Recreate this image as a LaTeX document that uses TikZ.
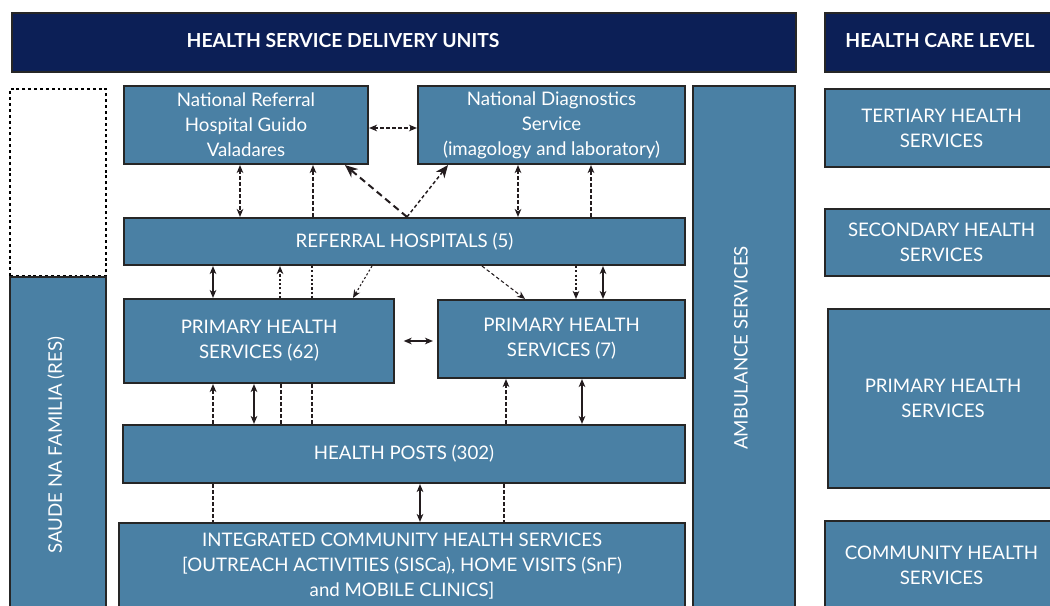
\documentclass[tikz,border=0pt]{standalone}
\usepackage{fontspec}
\setmainfont{Lato}
\usetikzlibrary{arrows.meta}
\definecolor{boxblue}{RGB}{74,128,164}
\definecolor{navy}{RGB}{12,31,86}
\definecolor{edge}{RGB}{38,38,38}
\definecolor{arr}{RGB}{35,28,30}
\begin{document}
\begin{tikzpicture}[x=0.75pt,y=-0.75pt,
  blk/.style 2 args={draw=edge, line width=1.6pt, fill=boxblue, text=white,
    minimum width=#1*0.75pt, minimum height=#2*0.75pt, inner sep=0pt,
    align=center, font=\fontsize{14}{18.75}\selectfont},
  hdr/.style 2 args={draw=edge, line width=1.6pt, fill=navy,
    minimum width=#1*0.75pt, minimum height=#2*0.75pt, inner sep=0pt},
  hdrtext/.style={text=white, font=\bfseries\fontsize{14.5}{17}\selectfont},
  lbl/.style={text=white, font=\fontsize{14}{18.75}\selectfont, inner sep=0pt},
  tipsm/.tip={Stealth[length=6pt,width=5pt,inset=1.8pt]},
  tipbig/.tip={Stealth[length=9.5pt,width=8pt,inset=3pt]},
  con/.style={draw=arr, line width=0.8pt},
  da/.style={con, dash pattern=on 2.6pt off 1.9pt},
  dt/.style={con, dash pattern=on 1.6pt off 1.6pt},
  thk/.style={draw=arr, line width=1.5pt},
  bigda/.style={draw=arr, line width=1.5pt, dash pattern=on 5pt off 3.2pt},
]
\useasboundingbox (0,0) rectangle (1050,606);
\fill[white] (0,0) rectangle (1050,606);

% headers
\node[hdr={784}{59}] (h1) at (404,42.5) {};
\node[hdrtext] (h1t) at (343,40.5) {HEALTH SERVICE DELIVERY UNITS};
\node[hdr={233}{59}] (h2) at (941.5,42.5) {};
\node[hdrtext] (h2t) at (940,40.5) {HEALTH CARE LEVEL};

% left column
\node[draw=black, line width=1.5pt, dash pattern=on 2.2pt off 2.2pt,
      minimum width=96*0.75pt, minimum height=187*0.75pt, inner sep=0pt] (dotbox) at (58,182.5) {};
\node[blk={96}{343}] (res) at (58,448.5) {};
\node[lbl, rotate=90] (rest) at (56,445) {SAUDE NA FAMILIA (RES)};

% ambulance
\node[blk={102}{534}] (amb) at (744,353) {};
\node[lbl, rotate=90] (ambt) at (741,348) {AMBULANCE SERVICES};

% delivery units
\node[blk={244}{78}] (nrh) at (246,125) {National Referral\\Hospital Guido\\Valadares};
\node[blk={267}{78}] (nds) at (551.5,125) {National Diagnostics\\Service\\(imagology and laboratory)};
\node[blk={561}{47}] (ref) at (404.5,241.5) {REFERRAL HOSPITALS (5)};
\node[blk={270}{84}] (p62) at (259,341) {PRIMARY HEALTH\\SERVICES (62)};
\node[blk={247}{78}] (p7) at (561.5,339) {PRIMARY HEALTH\\SERVICES (7)};
\node[blk={562}{58}] (hp) at (404,454) {HEALTH POSTS (302)};
\node[blk={566}{87}] (ichs) at (402,566.5) {INTEGRATED COMMUNITY HEALTH SERVICES\\{}[OUTREACH ACTIVITIES (SISCa), HOME VISITS (SnF)\\and MOBILE CLINICS]};

% care levels
\node[blk={233}{78}] (ter) at (941.5,128) {TERTIARY HEALTH\\SERVICES};
\node[blk={233}{67}] (sec) at (941.5,242.5) {SECONDARY HEALTH\\SERVICES};
\node[blk={230}{179}] (pri) at (943,398.5) {PRIMARY HEALTH\\SERVICES};
\node[blk={233}{89}] (com) at (941.5,565.5) {COMMUNITY HEALTH\\SERVICES};

% connectors: national level
\draw[da, tipsm-tipsm] (nrh.east |- 0,128) -- (nds.west |- 0,128);
\draw[da, tipsm-tipsm] (nrh.south -| 240,0) -- (ref.north -| 240,0);
\draw[da, -tipsm] (ref.north -| 313,0) -- (nrh.south -| 313,0);
\draw[bigda, -tipbig] (ref.north -| 407,0) -- (nrh.south -| 345,0);
\draw[da, line width=1.1pt, -tipbig] (ref.north -| 407,0) -- (nds.south -| 448,0);
\draw[da, tipsm-tipsm] (nds.south -| 518,0) -- (ref.north -| 518,0);
\draw[da, -tipsm] (ref.north -| 591,0) -- (nds.south -| 591,0);

% referral to primary
\draw[con, tipsm-tipsm] (ref.south -| 213,0) -- (p62.north -| 213,0);
\draw[dt, -tipsm] (p62.north -| 280,0) -- (ref.south -| 280,0);
\draw[dt] (ref.south -| 312,0) -- (p62.north -| 312,0);
\draw[dt, -tipsm] (ref.south -| 372,0) -- (p62.north -| 353,0);
\draw[da, -tipsm] (ref.south -| 482,0) -- (p7.north -| 525,0);
\draw[dt, -tipsm] (ref.south -| 576,0) -- (p7.north -| 576,0);
\draw[con, tipsm-tipsm] (ref.south -| 603,0) -- (p7.north -| 603,0);
\draw[con, tipsm-tipsm] ([xshift=6.5pt]p62.east |- 0,341) -- ([xshift=-3pt]p7.west |- 0,341);

% primary to health posts
\draw[da, -tipsm] (hp.north -| 213,0) -- (p62.south -| 213,0);
\draw[thk, tipsm-tipsm] (p62.south -| 254,0) -- (hp.north -| 254,0);
\draw[da] (p62.south -| 281,0) -- (hp.north -| 281,0);
\draw[da] (p62.south -| 312,0) -- (hp.north -| 312,0);
\draw[da, -tipsm] (hp.north -| 506,0) -- (p7.south -| 506,0);
\draw[thk, tipsm-tipsm] (p7.south -| 582,0) -- (hp.north -| 582,0);

% health posts to community
\draw[da] (hp.south -| 213,0) -- (ichs.north -| 213,0);
\draw[thk, tipsm-tipsm] (hp.south -| 420,0) -- (ichs.north -| 420,0);
\draw[da] (hp.south -| 504,0) -- (ichs.north -| 504,0);
\end{tikzpicture}
\end{document}
